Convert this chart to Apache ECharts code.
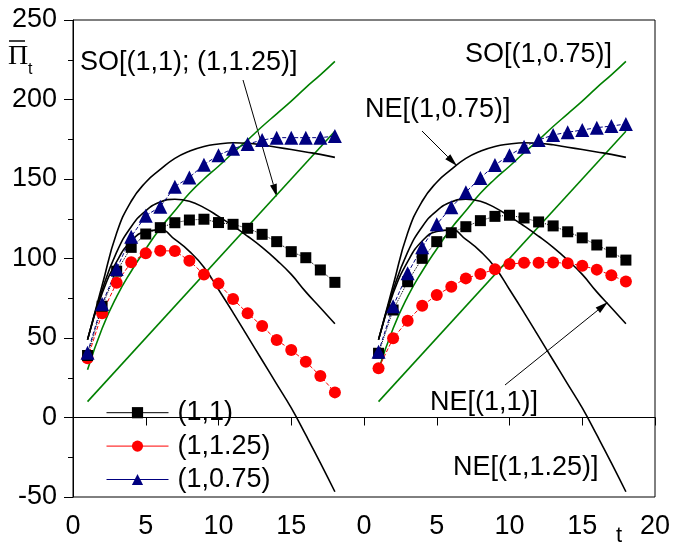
<!DOCTYPE html>
<html>
<head>
<meta charset="utf-8">
<script src="https://cdn.jsdelivr.net/npm/echarts@6/dist/echarts.min.js"></script>
<style>
  html, body { margin: 0; padding: 0; background: #fff; }
  #chart { width: 674px; height: 546px; }
</style>
</head>
<body>
<div id="chart"></div>
<script>
// time steps, same for both panels
var tVals = [1, 2, 3, 4, 5, 6, 7, 8, 9, 10, 11, 12, 13, 14, 15, 16, 17, 18];
var panelShift = 20; // right panel sits at x+20 on the shared axis
var xTickLabels = ['0', '5', '10', '15', '0', '5', '10', '15', '20'];

// NE curves (no markers), identical in both panels
var neTop = [49, 83, 116, 136, 148, 156, 163, 167.5, 170.5, 172, 172.8, 172.5, 171.5, 170, 168.5, 167, 165.5, 163.6];
var neMid = [49, 80, 104, 120, 130, 135.5, 137.3, 136, 132, 126.5, 120.5, 114, 107, 99, 90, 79, 69, 59];
var neLow = [49, 78, 98, 111, 117, 118, 112, 104.5, 94.5, 80.5, 66, 51, 36, 21, 6, -11, -28.5, -46.7];

// SO lines (green)
var soUpper = [30, 56, 76, 92, 106, 119, 130, 141, 150, 158, 166.5, 174.5, 183, 191, 199, 207.5, 215.5, 224];
var soLowT = [1, 18];
var soLow = [10, 180];

// left panel markers
var sqLeft = [39, 70, 92, 107, 115.4, 119.4, 122.5, 124.2, 124.7, 122.6, 121.5, 119, 115.2, 110.6, 104.3, 100.5, 92.8, 85];
var ciLeft = [37.2, 65.5, 84.8, 97.6, 103.3, 104.9, 104.7, 98.6, 90, 84.2, 74.5, 65.5, 57.5, 48.7, 42.5, 35.1, 26.1, 15.8];
var trLeft = [40.8, 71.4, 93.4, 113.7, 126.9, 132.6, 145.2, 151, 159, 165, 169, 172, 174.5, 176, 176, 176, 176, 177];

// right panel markers
var sqRight = [40.4, 67.6, 85.4, 100.1, 110.6, 116.2, 120, 123.8, 126.5, 127.2, 125.5, 123, 120.5, 116.8, 113, 108.5, 104, 99];
var ciRight = [31, 49.8, 60.9, 70.3, 77, 82.3, 87.5, 90.3, 93.2, 96.5, 97.3, 97.3, 97.5, 97, 95.5, 93, 89.5, 85.5];
var trRight = [41.4, 70, 90.7, 107, 121.5, 132.2, 141.7, 150.7, 158.8, 165, 170.3, 174.5, 177.7, 179.4, 180.8, 182.3, 183.3, 184.6];

var FONT = 'Liberation Sans, Arial, sans-serif';

function pairs(ts, vals, shift) {
  return ts.map(function (t, i) { return [t + shift, vals[i]]; });
}

function plain(ts, vals, shift, color, smooth) {
  return {
    type: 'line', data: pairs(ts, vals, shift), smooth: smooth, symbol: 'none',
    lineStyle: { color: color, width: 1.6 }, silent: true, z: 2
  };
}

function marked(name, vals, shift, color, symbol, size, dash) {
  return {
    type: 'line', name: name, data: pairs(tVals, vals, shift),
    symbol: symbol, symbolSize: size, showAllSymbol: true,
    itemStyle: { color: color },
    lineStyle: { color: color, width: 1, type: dash },
    z: 5
  };
}

function arrow(x1, y1, x2, y2) {
  var a = Math.atan2(y2 - y1, x2 - x1), L = 13, W = 3.5;
  var bx = x2 - L * Math.cos(a), by = y2 - L * Math.sin(a);
  var px = -Math.sin(a) * W, py = Math.cos(a) * W;
  return [
    { type: 'line', shape: { x1: x1, y1: y1, x2: bx, y2: by }, style: { stroke: '#000', lineWidth: 1 } },
    { type: 'polygon', shape: { points: [[x2, y2], [bx + px, by + py], [bx - px, by - py]] }, style: { fill: '#000' } }
  ];
}

function label(text, x, y) {
  return { type: 'text', x: x, y: y, style: { text: text, fontSize: 27, fontFamily: FONT, fill: '#000', verticalAlign: 'middle' } };
}

var series = [];
[0, panelShift].forEach(function (s) {
  series.push(plain(tVals, soUpper, s, '#008000', true));
  series.push(plain(soLowT, soLow, s, '#008000', false));
  series.push(plain(tVals, neTop, s, '#000', true));
  series.push(plain(tVals, neMid, s, '#000', true));
  series.push(plain(tVals, neLow, s, '#000', true));
});
series.push(marked('(1,1.25)', ciLeft, 0, '#ff0000', 'circle', 12, 'dashed'));
series.push(marked('(1,1.25)', ciRight, panelShift, '#ff0000', 'circle', 12, 'dashed'));
series.push(marked('(1,1)', sqLeft, 0, '#000', 'rect', 11, 'dotted'));
series.push(marked('(1,1)', sqRight, panelShift, '#000', 'rect', 11, 'dotted'));
series.push(marked('(1,0.75)', trLeft, 0, '#000080', 'triangle', 14, 'dashed'));
series.push(marked('(1,0.75)', trRight, panelShift, '#000080', 'triangle', 14, 'dashed'));

var graphics = [
  label('SO[(1,1); (1,1.25)]', 80, 63),
  label('NE[(1,0.75)]', 365, 110),
  label('SO[(1,0.75)]', 465, 55),
  label('NE[(1,1)]', 430, 403),
  label('NE[(1,1.25)]', 453, 468),
  // y axis title: Pi with bar, subscript t
  { type: 'text', x: 8, y: 57, style: { text: 'Π', fontSize: 28, fontFamily: 'Liberation Serif, serif', fill: '#000', verticalAlign: 'middle' } },
  { type: 'line', shape: { x1: 9, y1: 41, x2: 25, y2: 41 }, style: { stroke: '#000', lineWidth: 1.5 } },
  { type: 'text', x: 28, y: 70, style: { text: 't', fontSize: 16, fontFamily: FONT, fill: '#000', verticalAlign: 'middle' } },
  // x axis title
  { type: 'text', x: 616, y: 536, style: { text: 't', fontSize: 22, fontFamily: FONT, fill: '#000', verticalAlign: 'middle' } }
]
  .concat(arrow(243, 80, 277, 197))
  .concat(arrow(422, 131, 457, 166))
  .concat(arrow(505, 385, 608, 302));

var myChart = echarts.init(document.getElementById('chart'));
var option = {
  animation: false,
  backgroundColor: '#fff',
  grid: { left: 73, right: 19, top: 20, bottom: 49, show: true, borderColor: '#000', borderWidth: 1 },
  xAxis: {
    type: 'value', min: 0, max: 40, interval: 5,
    axisLine: { lineStyle: { color: '#000', width: 1 } },
    axisTick: { length: 8, lineStyle: { color: '#000' } },
    splitLine: { show: false },
    axisLabel: {
      color: '#000', fontSize: 27, fontFamily: FONT, margin: 16,
      formatter: function (v) { return xTickLabels[Math.round(v / 5)]; }
    }
  },
  yAxis: {
    type: 'value', min: -50, max: 250, interval: 50,
    axisLine: { show: true, lineStyle: { color: '#000', width: 1 } },
    axisTick: { show: true, length: 9, lineStyle: { color: '#000' } },
    minorTick: { show: true, splitNumber: 2, length: 5, lineStyle: { color: '#000' } },
    splitLine: { show: false },
    axisLabel: { color: '#000', fontSize: 27, fontFamily: FONT, margin: 16 }
  },
  legend: {
    data: ['(1,1)', '(1,1.25)', '(1,0.75)'],
    orient: 'vertical', left: 106, top: 399, padding: 0,
    itemWidth: 62, itemHeight: 14, itemGap: 6,
    lineStyle: { type: 'solid', width: 1 },
    textStyle: { color: '#000', fontSize: 27, fontFamily: FONT, lineHeight: 27.4, padding: [0, 0, 0, 4] }
  },
  graphic: graphics,
  series: series
};
myChart.setOption(option);
</script>
</body>
</html>
